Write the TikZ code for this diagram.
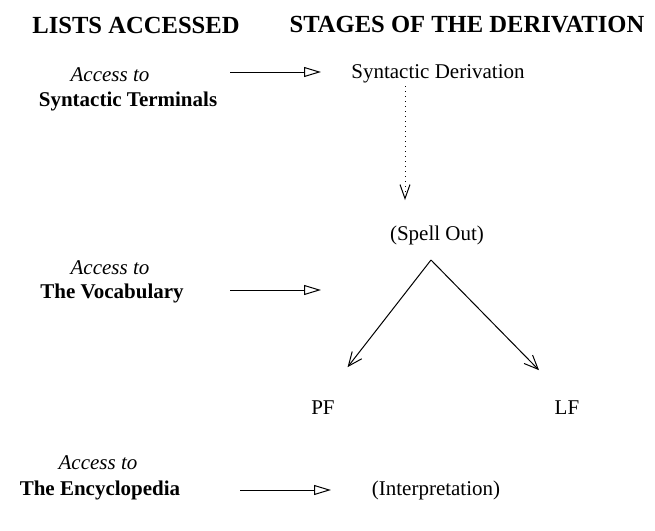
\documentclass[tikz,border=0pt]{standalone}
\usepackage{fontspec}
\setmainfont{Liberation Serif}
\usetikzlibrary{arrows.meta, positioning}
\tikzset{
	head/.style={
		font=\fontsize{12.3}{14}\selectfont\bfseries,
		inner sep=1pt
	},
	access/.style={
		font=\fontsize{10.5}{12.5}\selectfont\itshape,
		inner sep=1pt
	},
	list/.style={
		font=\fontsize{10.5}{12.5}\selectfont\bfseries,
		inner sep=1pt
	},
	stage/.style={
		font=\fontsize{10.5}{12.5}\selectfont,
		inner sep=1pt
	},
	feed/.style={line width=0.5pt,-{Triangle[open,length=8.5pt,width=5pt]}},
	branch/.style={line width=0.5pt,-{Straight Barb[length=7pt,width=6pt]}},
	dotarrow/.style={line width=0.5pt,dotted,-{Straight Barb[length=7pt,width=5pt]}}
}

\begin{document}
\begin{tikzpicture}[x=0.5pt,y=-0.5pt]
	\useasboundingbox (0,0) rectangle (655,531);
	% column headings
	\node (lhead) [head] at (136,25) {LISTS ACCESSED};
	\node (rhead) [head] at (467,25) {STAGES OF THE DERIVATION};

	% lists
	\node (acc1) [access] at (110,75) {Access to};
	\node (term) [list] at (128,101) {Syntactic Terminals};
	\node (acc2) [access] at (110,268) {Access to};
	\node (vocab) [list] at (112,293) {The Vocabulary};
	\node (acc3) [access] at (98,463) {Access to};
	\node (ency) [list] at (100,490) {The Encyclopedia};

	% stages
	\node (synder) [stage] at (438,74) {Syntactic Derivation};
	\node (spell) [stage] at (437,235) {(Spell Out)};
	\node (pf) [stage] at (323,408) {PF};
	\node (lf) [stage] at (567,408) {LF};
	\node (interp) [stage] at (436,490) {(Interpretation)};

	\coordinate (f1s) at (230,72);
	\coordinate (f1e) at (321,72);
	\coordinate (f2s) at (230,290);
	\coordinate (f2e) at (321,290);
	\coordinate (f3s) at (240,490);
	\coordinate (f3e) at (331,490);
	\coordinate (dtop) at (405,86);
	\coordinate (dbot) at (405,200);
	\coordinate (split) at (431,260);

	\draw [feed] (f1s) -- (f1e);
	\draw [feed] (f2s) -- (f2e);
	\draw [feed] (f3s) -- (f3e);
	\draw [dotarrow] (dtop) -- (dbot);
	\draw [branch, shorten >=20] (split) -- (pf.north);
	\draw [branch, shorten >=20] (split) -- (lf.north);
\end{tikzpicture}
\end{document}
